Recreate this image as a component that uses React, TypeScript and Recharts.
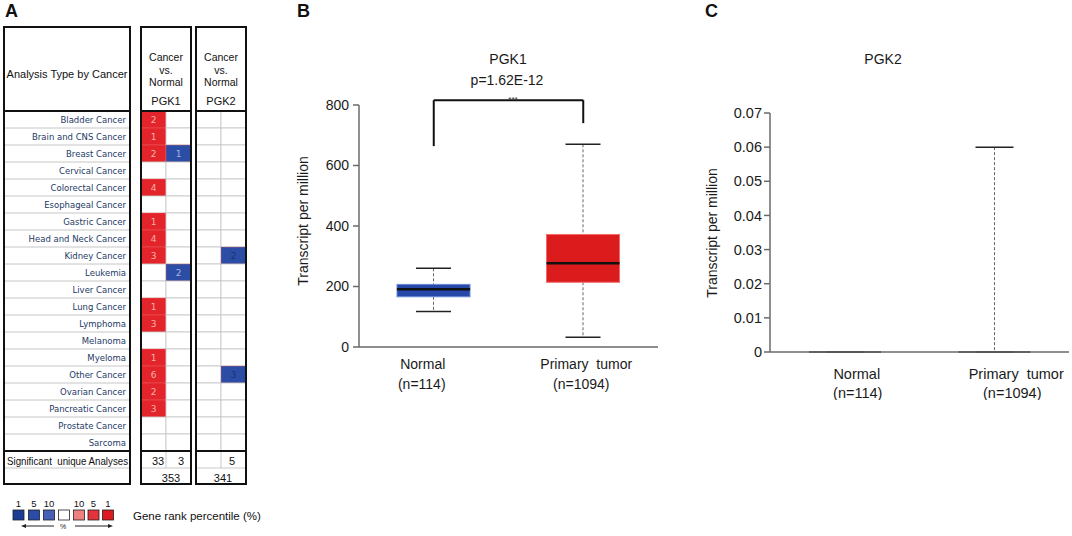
import React from 'react';
import { BarChart, Bar, XAxis, YAxis, ComposedChart, ReferenceLine } from 'recharts';

const FONT = "'Liberation Sans', Arial, Helvetica, sans-serif";
const ROW_FONT = "'DejaVu Sans', Verdana, sans-serif";

// ---------------- Panel A data ----------------
const cancerTypes = [
  'Bladder Cancer', 'Brain and CNS Cancer', 'Breast Cancer', 'Cervical Cancer', 'Colorectal Cancer',
  'Esophageal Cancer', 'Gastric Cancer', 'Head and Neck Cancer', 'Kidney Cancer', 'Leukemia',
  'Liver Cancer', 'Lung Cancer', 'Lymphoma', 'Melanoma', 'Myeloma',
  'Other Cancer', 'Ovarian Cancer', 'Pancreatic Cancer', 'Prostate Cancer', 'Sarcoma',
];
const pgk1Over = [2, 1, 2, null, 4, null, 1, 4, 3, null, null, 1, 3, null, 1, 6, 2, 3, null, null];
const pgk1Under = [null, null, 1, null, null, null, null, null, null, 2, null, null, null, null, null, null, null, null, null, null];
const pgk2Over = [null, null, null, null, null, null, null, null, null, null, null, null, null, null, null, null, null, null, null, null];
const pgk2Under = [null, null, null, null, null, null, null, null, 2, null, null, null, null, null, null, 3, null, null, null, null];
const pgk1Significant = ['33', '3'];
const pgk1Total = '353';
const pgk2Significant = ['', '5'];
const pgk2Total = '341';
const legendTicks = ['1', '5', '10', '', '10', '5', '1'];

// ---------------- Panel B data ----------------
const bGroups = ['Normal', 'Primary  tumor'];
const bCounts = ['(n=114)', '(n=1094)'];
const bMin = [117, 32];
const bQ1 = [166, 214];
const bMedian = [191, 277];
const bQ3 = [207, 372];
const bMax = [260, 670];
const bTicks = [0, 200, 400, 600, 800];
const bBracketTop = 816;
const bBracketLeft = 664;
const bBracketRight = 740;

// ---------------- Panel C data ----------------
const cGroups = ['Normal', 'Primary  tumor'];
const cCounts = ['(n=114)', '(n=1094)'];
const cMin = [0, 0];
const cQ1 = [0, 0];
const cMedian = [0, 0];
const cQ3 = [0, 0];
const cMax = [0, 0.06];
const cTicks = [0, 0.01, 0.02, 0.03, 0.04, 0.05, 0.06, 0.07];

// ---------------- styles ----------------
const OVER_COLOR = '#e3242b';
const UNDER_COLOR = '#2c4da6';
const legendColors = ['#1c3c96', '#2a4ca8', '#4660b6', '#ffffff', '#ef8080', '#e2343a', '#dd1a1f'];
const bBoxFill = ['#2748a8', '#dc1c1c'];
const bBoxStroke = ['#6d8ad6', '#f06a6a'];
const AXIS = '#6a6a6a';

const aTable = cancerTypes.map((name, i) => ({
  name,
  over1: pgk1Over[i],
  under1: pgk1Under[i],
  over2: pgk2Over[i],
  under2: pgk2Under[i],
  slotA: 1,
  slotB: 1,
}));

const boxTable = (groups: string[], counts: string[], mn: number[], q1: number[], md: number[], q3: number[], mx: number[]) =>
  groups.map((name, i) => ({
    name,
    n: counts[i],
    base: mn[i],
    lowW: q1[i] - mn[i],
    boxLow: md[i] - q1[i],
    boxHigh: q3[i] - md[i],
    upW: mx[i] - q3[i],
  }));

const bTable = boxTable(bGroups, bCounts, bMin, bQ1, bMedian, bQ3, bMax);
const cTable = boxTable(cGroups, cCounts, cMin, cQ1, cMedian, cQ3, cMax);

// ---------------- shapes ----------------
const makeCell = (key: string, color: string, textColor: string) => (props: any) => {
  const { x, y, width, height, payload } = props;
  const v = payload[key];
  const has = v !== null && v !== undefined;
  return (
    <g>
      <rect x={x} y={y} width={width} height={height} fill={has ? color : '#ffffff'} stroke={has ? '#ef6a6a' : '#c4c4c4'} strokeOpacity={has ? 0.5 : 1} strokeWidth={0.8} />
      {has && (
        <text x={x + width / 2} y={y + height / 2} textAnchor="middle" dominantBaseline="central" fontSize={9} fill={textColor} fontFamily={ROW_FONT}>
          {v}
        </text>
      )}
    </g>
  );
};

const RowLabel = (props: any) => {
  const { y, payload } = props;
  return (
    <g>
      <text x={126} y={y} textAnchor="end" dominantBaseline="central" fontSize={8.5} fill="#1d3a66" fontFamily={ROW_FONT}>
        {payload.value}
      </text>
      <line x1={4} x2={130} y1={y + 8.5} y2={y + 8.5} stroke="#b8b8b8" strokeWidth={0.8} />
    </g>
  );
};

const EmptyShape = () => <g />;

const makeLowWhisker = (cap: number) => (props: any) => {
  const { x, y, width, height } = props;
  const cx = x + width / 2;
  const bottom = y + height;
  return (
    <g>
      <line x1={cx} x2={cx} y1={y} y2={bottom} stroke="#666" strokeWidth={1} strokeDasharray="3 2" />
      <line x1={cx - cap / 2} x2={cx + cap / 2} y1={bottom} y2={bottom} stroke="#222" strokeWidth={1.5} />
    </g>
  );
};

const makeUpWhisker = (cap: number) => (props: any) => {
  const { x, y, width, height } = props;
  const cx = x + width / 2;
  return (
    <g>
      <line x1={cx} x2={cx} y1={y} y2={y + height} stroke="#666" strokeWidth={1} strokeDasharray="3 2" />
      <line x1={cx - cap / 2} x2={cx + cap / 2} y1={y} y2={y} stroke="#222" strokeWidth={1.5} />
    </g>
  );
};

const makeBox = (fills: string[] | null, strokes: string[] | null, withMedian: boolean) => (props: any) => {
  const { x, y, width, height, index } = props;
  return (
    <g>
      {fills && height > 0 && (
        <rect x={x} y={y} width={width} height={height} fill={fills[index]} stroke={strokes ? strokes[index] : 'none'} strokeWidth={1} />
      )}
      {withMedian && <line x1={x} x2={x + width} y1={y + height} y2={y + height} stroke="#111" strokeWidth={fills ? 2.5 : 1.6} />}
    </g>
  );
};

const makeXTick = (counts: string[], dxName: number[], dxCount: number[], y1: number, y2: number, fs: number) => (props: any) => {
  const { x, payload, index } = props;
  return (
    <g>
      <text x={x + dxName[index]} y={y1} textAnchor="middle" fontSize={fs} fill="#1a1a1a" fontFamily={FONT} style={{ whiteSpace: 'pre' }}>
        {payload.value}
      </text>
      <text x={x + dxCount[index]} y={y2} textAnchor="middle" fontSize={fs} fill="#1a1a1a" fontFamily={FONT}>
        {counts[index]}
      </text>
    </g>
  );
};

const bXTick = makeXTick(bCounts, [-11, 3], [-12, -2], 369, 389, 14);
const cXTick = makeXTick(cCounts, [12, 22], [13, 18], 379, 398, 14.5);

const abs = (left: number, top: number): React.CSSProperties => ({ position: 'absolute', left, top });

export default function App() {
  const boxBorders: [number, number][] = [[4, 130], [141, 191], [196, 246]];
  const legendX = [13, 28.5, 43.5, 58.5, 73.5, 88, 102.5];
  return (
    <div style={{ position: 'absolute', left: 0, top: 0, width: 1072, height: 536, background: '#fff', overflow: 'hidden' }}>
      {/* Panel A : PGK1 columns (with row labels) */}
      <div style={abs(0, 111)}>
        <BarChart width={191} height={340} data={aTable} layout="vertical" margin={{ top: 0, right: 0, bottom: 0, left: 0 }} barCategoryGap={0} barGap={0}>
          <XAxis type="number" domain={[0, 2]} hide />
          <YAxis type="category" dataKey="name" width={141} tick={RowLabel} axisLine={false} tickLine={false} interval={0} />
          <Bar dataKey="slotA" stackId="p1" shape={makeCell('over1', OVER_COLOR, '#f6b4a6')} isAnimationActive={false} />
          <Bar dataKey="slotB" stackId="p1" shape={makeCell('under1', UNDER_COLOR, '#a4b4e4')} isAnimationActive={false} />
        </BarChart>
      </div>
      {/* Panel A : PGK2 columns */}
      <div style={abs(196, 111)}>
        <BarChart width={50} height={340} data={aTable} layout="vertical" margin={{ top: 0, right: 0, bottom: 0, left: 0 }} barCategoryGap={0} barGap={0}>
          <XAxis type="number" domain={[0, 2]} hide />
          <YAxis type="category" dataKey="name" hide width={0} />
          <Bar dataKey="slotA" stackId="p2" shape={makeCell('over2', OVER_COLOR, '#f6b4a6')} isAnimationActive={false} />
          <Bar dataKey="slotB" stackId="p2" shape={makeCell('under2', UNDER_COLOR, '#1c2f70')} isAnimationActive={false} />
        </BarChart>
      </div>

      {/* Panel B */}
      <div style={abs(280, 0)}>
        <ComposedChart width={380} height={400} data={bTable} margin={{ top: 105, right: 2, bottom: 0, left: 19 }}>
          <XAxis dataKey="name" height={53} tickLine={false} axisLine={{ stroke: AXIS, strokeWidth: 1.5 }} tick={bXTick} interval={0} />
          <YAxis width={60} domain={[0, 800]} ticks={bTicks} tickSize={6} tickMargin={4}
            tick={{ fontSize: 14, fill: '#1a1a1a', fontFamily: FONT }}
            tickLine={{ stroke: AXIS, strokeWidth: 1.5 }} axisLine={{ stroke: AXIS, strokeWidth: 1.5 }} />
          <Bar dataKey="base" stackId="b" barSize={73} shape={EmptyShape} isAnimationActive={false} />
          <Bar dataKey="lowW" stackId="b" barSize={73} shape={makeLowWhisker(35)} isAnimationActive={false} />
          <Bar dataKey="boxLow" stackId="b" barSize={73} shape={makeBox(bBoxFill, bBoxStroke, false)} isAnimationActive={false} />
          <Bar dataKey="boxHigh" stackId="b" barSize={73} shape={makeBox(bBoxFill, bBoxStroke, true)} isAnimationActive={false} />
          <Bar dataKey="upW" stackId="b" barSize={73} shape={makeUpWhisker(35)} isAnimationActive={false} />
          <ReferenceLine segment={[{ x: bGroups[0], y: bBracketTop }, { x: bGroups[1], y: bBracketTop }]} stroke="#111" strokeWidth={2} ifOverflow="visible" />
          <ReferenceLine segment={[{ x: bGroups[0], y: bBracketTop }, { x: bGroups[0], y: bBracketLeft }]} stroke="#111" strokeWidth={2} ifOverflow="visible" />
          <ReferenceLine segment={[{ x: bGroups[1], y: bBracketTop }, { x: bGroups[1], y: bBracketRight }]} stroke="#111" strokeWidth={2} ifOverflow="visible" />
        </ComposedChart>
      </div>

      {/* Panel C */}
      <div style={abs(660, 0)}>
        <ComposedChart width={412} height={400} data={cTable} margin={{ top: 113, right: 3, bottom: 0, left: 50 }}>
          <XAxis dataKey="name" height={48} tickLine={false} axisLine={{ stroke: AXIS, strokeWidth: 1.5 }} tick={cXTick} interval={0} />
          <YAxis width={60} domain={[0, 0.07]} ticks={cTicks} tickSize={6} tickMargin={2}
            tickFormatter={(v: number) => (v === 0 ? '0' : v.toFixed(2))}
            tick={{ fontSize: 14.5, fill: '#1a1a1a', fontFamily: FONT }}
            tickLine={{ stroke: AXIS, strokeWidth: 1.5 }} axisLine={{ stroke: AXIS, strokeWidth: 1.5 }} />
          <Bar dataKey="base" stackId="c" barSize={72} shape={EmptyShape} isAnimationActive={false} />
          <Bar dataKey="lowW" stackId="c" barSize={72} shape={makeLowWhisker(38)} isAnimationActive={false} />
          <Bar dataKey="boxLow" stackId="c" barSize={72} shape={makeBox(null, null, false)} isAnimationActive={false} />
          <Bar dataKey="boxHigh" stackId="c" barSize={72} shape={makeBox(null, null, true)} isAnimationActive={false} />
          <Bar dataKey="upW" stackId="c" barSize={72} shape={makeUpWhisker(38)} isAnimationActive={false} />
        </ComposedChart>
      </div>

      {/* Overlay: table frames, headers, legend, titles */}
      <svg width={1072} height={536} style={{ position: 'absolute', left: 0, top: 0, pointerEvents: 'none' }} fontFamily={FONT}>
        <text x={5} y={17} fontSize={18} fontWeight="bold" fill="#111">A</text>
        <text x={297} y={17} fontSize={18} fontWeight="bold" fill="#111">B</text>
        <text x={705} y={17} fontSize={18} fontWeight="bold" fill="#111">C</text>

        {boxBorders.map(([a, b], i) => (
          <g key={i}>
            <rect x={a} y={27} width={b - a} height={457} fill="none" stroke="#111" strokeWidth={2} />
            <line x1={a} x2={b} y1={111} y2={111} stroke="#111" strokeWidth={2} />
            <line x1={a} x2={b} y1={451} y2={451} stroke="#111" strokeWidth={2} />
            <line x1={a + 1} x2={b - 1} y1={468} y2={468} stroke="#bbb" strokeWidth={0.8} />
          </g>
        ))}
        <line x1={166} x2={166} y1={452} y2={468} stroke="#bbb" strokeWidth={0.8} />
        <line x1={221} x2={221} y1={452} y2={468} stroke="#bbb" strokeWidth={0.8} />

        <text x={67} y={78} fontSize={11} textAnchor="middle" fill="#111">Analysis Type by Cancer</text>
        {[166, 221].map((cx, i) => (
          <g key={i} fontSize={10.5} textAnchor="middle" fill="#111">
            <text x={cx} y={61}>Cancer</text>
            <text x={cx} y={73.5}>vs.</text>
            <text x={cx} y={86}>Normal</text>
            <text x={cx} y={105} fontSize={11}>{i === 0 ? 'PGK1' : 'PGK2'}</text>
          </g>
        ))}

        <text x={7} y={465} fontSize={11} fill="#111" textLength={121} lengthAdjust="spacingAndGlyphs" style={{ whiteSpace: 'pre' }}>Significant  unique Analyses</text>
        <text x={158} y={465} fontSize={11} textAnchor="middle" fill="#111">{pgk1Significant[0]}</text>
        <text x={181} y={465} fontSize={11} textAnchor="middle" fill="#111">{pgk1Significant[1]}</text>
        <text x={208} y={465} fontSize={11} textAnchor="middle" fill="#111">{pgk2Significant[0]}</text>
        <text x={232} y={465} fontSize={11} textAnchor="middle" fill="#111">{pgk2Significant[1]}</text>
        <text x={171} y={482} fontSize={11} textAnchor="middle" fill="#111">{pgk1Total}</text>
        <text x={223} y={482} fontSize={11} textAnchor="middle" fill="#111">{pgk2Total}</text>

        {legendColors.map((c, i) => (
          <g key={i}>
            <text x={legendX[i] + 5.5} y={507} fontSize={9.5} textAnchor="middle" fill="#111">{legendTicks[i]}</text>
            <rect x={legendX[i]} y={510} width={11} height={10} fill={c} stroke="#222" strokeWidth={0.8} />
          </g>
        ))}
        <line x1={25} x2={54} y1={526} y2={526} stroke="#222" strokeWidth={1} />
        <polygon points="21,526 26,524 26,528" fill="#222" />
        <text x={63} y={529} fontSize={7} textAnchor="middle" fill="#222">%</text>
        <line x1={75} x2={109} y1={526} y2={526} stroke="#222" strokeWidth={1} />
        <polygon points="113,526 108,524 108,528" fill="#222" />
        <text x={133} y={520} fontSize={11.5} fill="#111">Gene rank percentile (%)</text>

        <text x={508} y={63.5} fontSize={14} textAnchor="middle" fill="#1a1a1a">PGK1</text>
        <text x={507} y={84.5} fontSize={14} textAnchor="middle" fill="#1a1a1a">p=1.62E-12</text>
        <text x={513} y={102} fontSize={8} textAnchor="middle" fill="#333">***</text>
        <text transform="translate(308,221) rotate(-90)" fontSize={14} textAnchor="middle" fill="#1a1a1a">Transcript per million</text>

        <text x={883} y={63.5} fontSize={14} textAnchor="middle" fill="#1a1a1a">PGK2</text>
        <text transform="translate(717,233) rotate(-90)" fontSize={14} textAnchor="middle" fill="#1a1a1a">Transcript per million</text>
      </svg>
    </div>
  );
}
